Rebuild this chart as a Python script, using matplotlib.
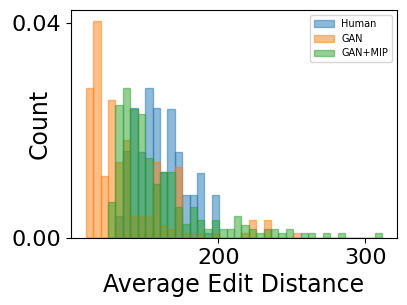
import numpy as np
import matplotlib
matplotlib.use("Agg")
import matplotlib.pyplot as plt

# common bin edges (40 bins)
edges = np.linspace(109.8, 311.6, 41)

# density per bin
human = [0, 0, 0, 0, 0.0041, 0.0161, 0.0241, 0.0160, 0.0280, 0.0241,
         0.0123, 0.0240, 0.0160, 0.0080, 0.0080, 0.0120, 0.0009, 0.0080, 0, 0,
         0, 0, 0, 0, 0, 0, 0, 0, 0, 0,
         0, 0, 0, 0, 0, 0, 0, 0, 0, 0]
gan = [0.0280, 0.0404, 0.0115, 0.0256, 0.0141, 0.0182, 0.0041, 0.0041, 0.0041, 0.0141,
       0.0025, 0.0017, 0.0132, 0.0009, 0.0009, 0.0009, 0, 0.0009, 0, 0,
       0, 0.0009, 0.0033, 0, 0.0033, 0, 0, 0, 0.0009, 0,
       0, 0, 0, 0, 0, 0, 0, 0, 0, 0]
gan_mip = [0, 0, 0, 0.0067, 0.0247, 0.0280, 0.0240, 0.0230, 0.0148, 0.0100,
           0.0123, 0.0123, 0.0057, 0.0026, 0.0057, 0.0033, 0.0016, 0.0033, 0.0016, 0.0016,
           0.0041, 0.0025, 0.0016, 0.0009, 0.0016, 0.0016, 0.0009, 0.0016, 0, 0.0009,
           0.0009, 0, 0.0009, 0, 0.0009, 0, 0, 0, 0, 0.0009]

series = [("Human", human, "#1f77b4"),
          ("GAN", gan, "#ff7f0e"),
          ("GAN+MIP", gan_mip, "#2ca02c")]

centers = (edges[:-1] + edges[1:]) / 2

fig = plt.figure(figsize=(4.07, 3.05), dpi=100)
ax = fig.add_axes([0.1745, 0.2197, 0.8009, 0.7475])

for name, vals, c in series:
    ax.hist(centers, bins=edges, weights=vals, color=c, edgecolor=c,
            alpha=0.5, linewidth=1, label=name)

ax.set_xticks([200, 300])
ax.set_yticks([0.0, 0.04])
ax.set_yticklabels(["0.00", "0.04"])
ax.tick_params(labelsize=16)
ax.set_xlabel("Average Edit Distance", fontsize=17)
ax.set_ylabel("Count", fontsize=17)
ax.yaxis.set_label_coords(-0.06, 0.5)
ax.legend(loc="upper right", fontsize=7)

fig.savefig("out.png", dpi=100)
